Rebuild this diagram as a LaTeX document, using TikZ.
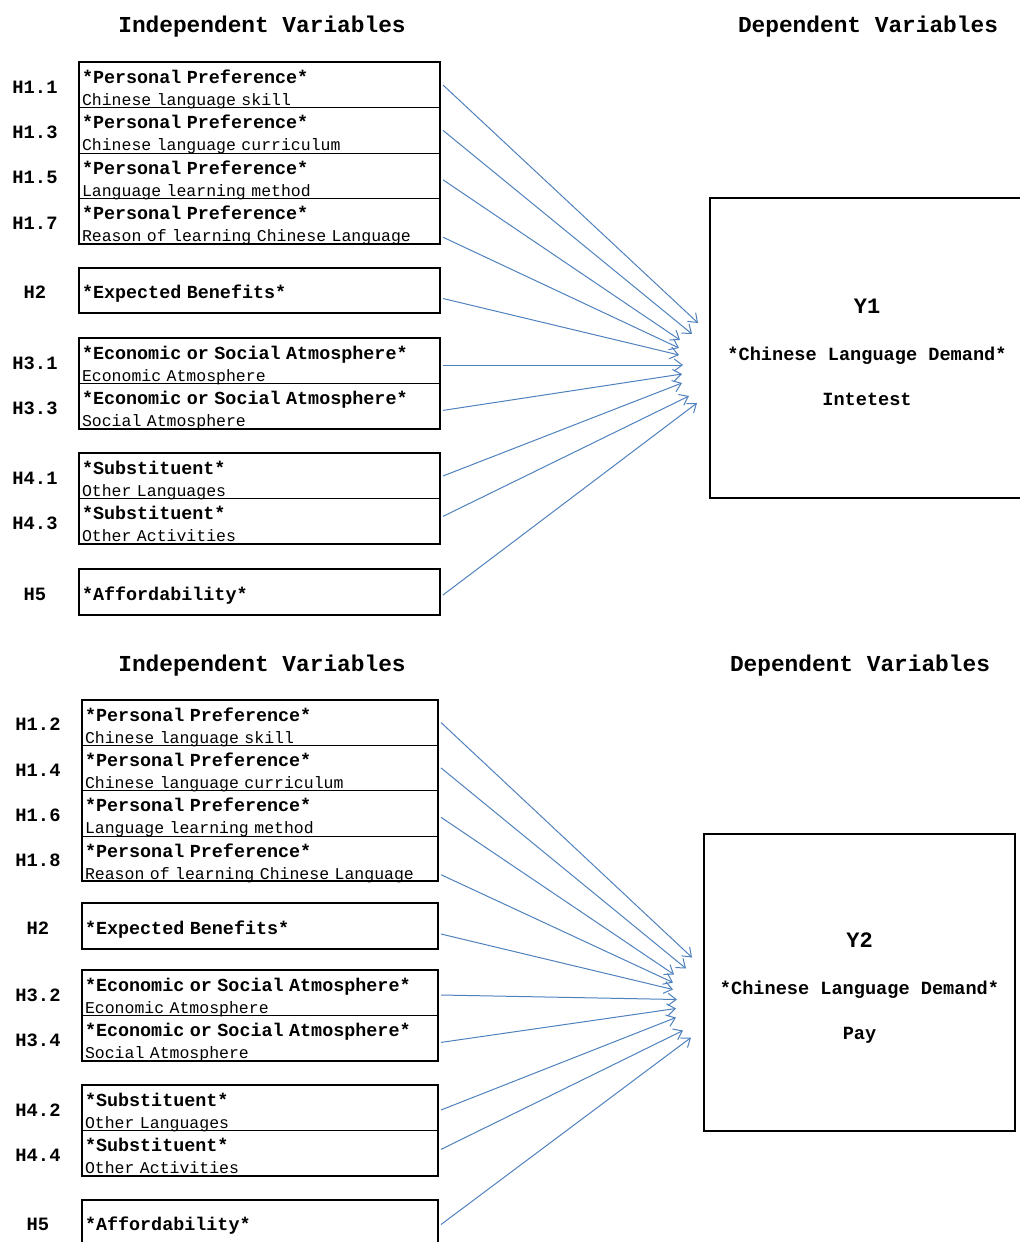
\documentclass[tikz,border=0pt]{standalone}
\usepackage{fontspec}
\setmainfont{Liberation Mono}[WordSpace={1,0,0}]
\usetikzlibrary{positioning,calc,arrows.meta}
\definecolor{linkblue}{RGB}{79,129,189}
\newcommand{\headtxt}[1]{{\bfseries\fontsize{9.2}{11}\selectfont #1}}

\begin{document}
\begin{tikzpicture}[x=0.5pt, y=-0.5pt,
  varbox/.style={draw, line width=0.5pt, outer sep=0pt, inner xsep=1.5pt, inner ysep=0pt,
    align=left, text width=#1, text height=10.6pt, text depth=12.1pt, font=\fontsize{8.25}{11}\selectfont},
  onebox/.style={text height=15.5pt, text depth=7.2pt},
  outerframe/.style={draw, line width=1pt},
  hyp/.style={font=\bfseries\fontsize{9.4}{11}\selectfont},
  heading/.style={font=\bfseries\fontsize{11.4}{13}\selectfont},
  ybox/.style={draw, line width=1pt},
  ytext/.style={align=center, font=\bfseries\fontsize{9.3}{11}\selectfont},
  link/.style={draw=linkblue, line width=0.5pt, -{Straight Barb[length=4pt,width=6pt]}}]
     \useasboundingbox (0,0) rectangle (1019,1242);

     % ---- upper model: interest ----
     \node[heading] (indep1) at (262,27) {Independent Variables};
     \node[heading] (dep1) at (868,27) {Dependent Variables};

     % the independent variables
     \node[varbox=177.5pt] (h11) at (259.5,85) {\headtxt{*Personal Preference*}\\Chinese language skill};
     \node[varbox=177.5pt, below=0pt of h11] (h13) {\headtxt{*Personal Preference*}\\Chinese language curriculum};
     \node[varbox=177.5pt, below=0pt of h13] (h15) {\headtxt{*Personal Preference*}\\Language learning method};
     \node[varbox=177.5pt, below=0pt of h15] (h17) {\headtxt{*Personal Preference*}\\Reason of learning Chinese Language};
     \node[varbox=177.5pt, onebox] (h2a) at (259.5,290.5) {\headtxt{*Expected Benefits*}};
     \node[varbox=177.5pt] (h31) at (259.5,361) {\headtxt{*Economic or Social Atmosphere*}\\Economic Atmosphere};
     \node[varbox=177.5pt, below=0pt of h31] (h33) {\headtxt{*Economic or Social Atmosphere*}\\Social Atmosphere};
     \node[varbox=177.5pt] (h41) at (259.5,476) {\headtxt{*Substituent*}\\Other Languages};
     \node[varbox=177.5pt, below=0pt of h41] (h43) {\headtxt{*Substituent*}\\Other Activities};
     \node[varbox=177.5pt, onebox] (h5a) at (259.5,592) {\headtxt{*Affordability*}};
     \draw[outerframe] (h11.north west) rectangle (h17.south east);
     \draw[outerframe] (h2a.north west) rectangle (h2a.south east);
     \draw[outerframe] (h31.north west) rectangle (h33.south east);
     \draw[outerframe] (h41.north west) rectangle (h43.south east);
     \draw[outerframe] (h5a.north west) rectangle (h5a.south east);

     % the hypotheses
     \node[hyp] (l11) at ([xshift=-22pt,yshift=-1pt]h11.west) {H1.1};
     \node[hyp] (l13) at ([xshift=-22pt,yshift=-1pt]h13.west) {H1.3};
     \node[hyp] (l15) at ([xshift=-22pt,yshift=-1pt]h15.west) {H1.5};
     \node[hyp] (l17) at ([xshift=-22pt,yshift=-1pt]h17.west) {H1.7};
     \node[hyp] (l2a) at ([xshift=-22pt,yshift=-1pt]h2a.west) {H2};
     \node[hyp] (l31) at ([xshift=-22pt,yshift=-1pt]h31.west) {H3.1};
     \node[hyp] (l33) at ([xshift=-22pt,yshift=-1pt]h33.west) {H3.3};
     \node[hyp] (l41) at ([xshift=-22pt,yshift=-1pt]h41.west) {H4.1};
     \node[hyp] (l43) at ([xshift=-22pt,yshift=-1pt]h43.west) {H4.3};
     \node[hyp] (l5a) at ([xshift=-22pt,yshift=-1pt]h5a.west) {H5};

     % the dependent variable
     \node[ybox, minimum width=156.5pt, minimum height=150pt] (y1) at (866.5,348) {};
     \node[ytext] (y1txt) at (867,352)
       {{\fontsize{11}{11}\selectfont Y1}\\[12.5pt]*Chinese Language Demand*\\[11.5pt]Intetest};

     % the arrows
     \foreach \dx/\dy [count=\i] in {-11/-25,-17/-14,-29/-8,-30/0,-30/7,-26/17,-27/26,-27/35,-20/48,-12/55}
       {\coordinate (t\i) at ($(y1.west)+(\dx,\dy)$);}
     \foreach \src/\sh [count=\i] in {h11/0pt,h13/0pt,h15/-2pt,h17/-8pt,h2a/-4pt,h31/-2pt,h33/-2pt,h41/0pt,h43/2.5pt,h5a/-1.5pt}
       {\draw[link] ([xshift=1.5pt,yshift=\sh]\src.east) -- (t\i);}

     % ---- lower model: pay ----
     \node[heading] (indep2) at (262,666) {Independent Variables};
     \node[heading] (dep2) at (860,666) {Dependent Variables};

     % the independent variables
     \node[varbox=175pt] (h12) at (260,722.5) {\headtxt{*Personal Preference*}\\Chinese language skill};
     \node[varbox=175pt, below=0pt of h12] (h14) {\headtxt{*Personal Preference*}\\Chinese language curriculum};
     \node[varbox=175pt, below=0pt of h14] (h16) {\headtxt{*Personal Preference*}\\Language learning method};
     \node[varbox=175pt, below=0pt of h16] (h18) {\headtxt{*Personal Preference*}\\Reason of learning Chinese Language};
     \node[varbox=175pt, onebox] (h2b) at (260,926) {\headtxt{*Expected Benefits*}};
     \node[varbox=175pt] (h32) at (260,993) {\headtxt{*Economic or Social Atmosphere*}\\Economic Atmosphere};
     \node[varbox=175pt, below=0pt of h32] (h34) {\headtxt{*Economic or Social Atmosphere*}\\Social Atmosphere};
     \node[varbox=175pt] (h42) at (260,1108) {\headtxt{*Substituent*}\\Other Languages};
     \node[varbox=175pt, below=0pt of h42] (h44) {\headtxt{*Substituent*}\\Other Activities};
     \node[varbox=175pt, onebox] (h5b) at (260,1222.5) {\headtxt{*Affordability*}};
     \draw[outerframe] (h12.north west) rectangle (h18.south east);
     \draw[outerframe] (h2b.north west) rectangle (h2b.south east);
     \draw[outerframe] (h32.north west) rectangle (h34.south east);
     \draw[outerframe] (h42.north west) rectangle (h44.south east);
     \draw[outerframe] (h5b.north west) rectangle (h5b.south east);

     % the hypotheses
     \node[hyp] (l12) at ([xshift=-22pt,yshift=-1pt]h12.west) {H1.2};
     \node[hyp] (l14) at ([xshift=-22pt,yshift=-1pt]h14.west) {H1.4};
     \node[hyp] (l16) at ([xshift=-22pt,yshift=-1pt]h16.west) {H1.6};
     \node[hyp] (l18) at ([xshift=-22pt,yshift=-1pt]h18.west) {H1.8};
     \node[hyp] (l2b) at ([xshift=-22pt,yshift=-1pt]h2b.west) {H2};
     \node[hyp] (l32) at ([xshift=-22pt,yshift=-1pt]h32.west) {H3.2};
     \node[hyp] (l34) at ([xshift=-22pt,yshift=-1pt]h34.west) {H3.4};
     \node[hyp] (l42) at ([xshift=-22pt,yshift=-1pt]h42.west) {H4.2};
     \node[hyp] (l44) at ([xshift=-22pt,yshift=-1pt]h44.west) {H4.4};
     \node[hyp] (l5b) at ([xshift=-22pt,yshift=-1pt]h5b.west) {H5};

     % the dependent variable
     \node[ybox, minimum width=155.5pt, minimum height=148.5pt] (y2) at (859.5,982.5) {};
     \node[ytext] (y2txt) at (859.5,988.5)
       {{\fontsize{11}{11}\selectfont Y2}\\[12.5pt]*Chinese Language Demand*\\[11.5pt]Pay};

     % the arrows
     \foreach \dx/\dy [count=\i] in {-11/-25,-17/-14,-29/-8,-30/0,-30/7,-26/17,-27/26,-27/35,-20/48,-12/55}
       {\coordinate (b\i) at ($(y2.west)+(\dx,\dy)$);}
     \foreach \src/\sh [count=\i] in {h12/0pt,h14/0pt,h16/-2pt,h18/-8pt,h2b/-4pt,h32/-1pt,h34/-2pt,h42/-1pt,h44/2pt,h5b/-1pt}
       {\draw[link] ([xshift=1.5pt,yshift=\sh]\src.east) -- (b\i);}
\end{tikzpicture}
\end{document}
